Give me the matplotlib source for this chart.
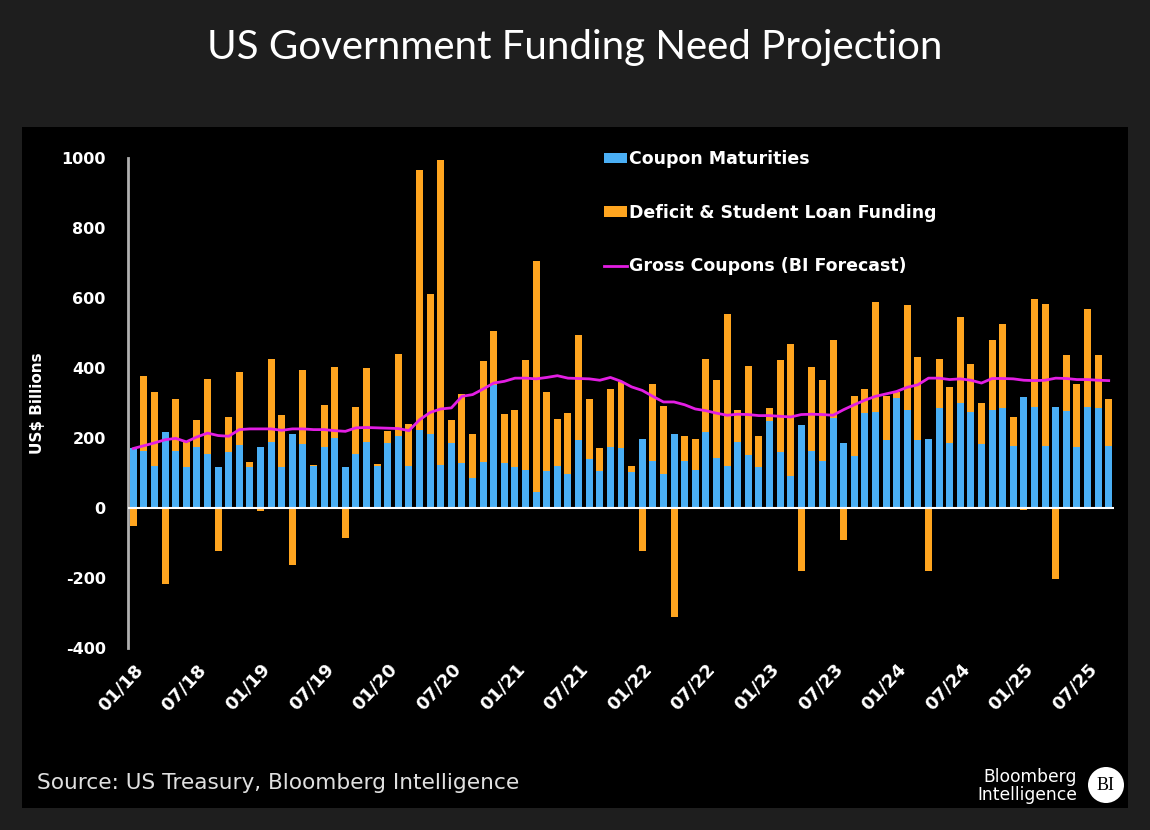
import matplotlib
matplotlib.use("Agg")
import matplotlib.pyplot as plt
import numpy as np
from matplotlib.patches import Rectangle, Ellipse

plt.rcParams["axes.unicode_minus"] = False

# monthly data, 01/18 .. 09/25 (US$ bn)
coupon_maturities = [170, 162, 121, 216, 162, 116, 173, 155, 116, 159, 181, 116, 173, 189, 116,
                     211, 184, 119, 173, 200, 116, 155, 189, 119, 186, 205, 121, 224, 210, 124,
                     186, 129, 86, 131, 352, 129, 116, 108, 45, 105, 121, 98, 193, 140, 105,
                     173, 170, 102, 197, 133, 97, 211, 133, 108, 216, 143, 121, 189, 150, 116,
                     248, 159, 90, 238, 162, 135, 257, 186, 148, 270, 273, 193, 314, 281, 193,
                     197, 286, 186, 300, 273, 183, 281, 285, 178, 316, 289, 178, 289, 278, 173,
                     289, 286, 178]
deficit_funding = [-52, 214, 209, -217, 149, 72, 77, 214, -122, 100, 208, 14, -10, 238, 150,
                   -162, 211, 5, 122, 203, -86, 133, 210, 8, 33, 236, 120, 743, 400, 869,
                   64, 198, 125, 289, 155, 140, 165, 316, 662, 225, 133, 172, 302, 171, 65,
                   167, 189, 19, -122, 221, 195, -312, 72, 89, 211, 224, 433, 92, 255, 89,
                   37, 265, 379, -179, 241, 232, 224, -90, 171, 70, 315, 128, 17, 300, 237,
                   -179, 141, 160, 246, 138, 117, 200, 242, 81, -5, 309, 405, -202, 160, 181,
                   280, 152, 133]
gross_coupons = [170, 178, 186, 195, 199, 189, 203, 214, 207, 205, 224, 226, 226, 226, 222,
                 226, 226, 224, 224, 221, 219, 229, 230, 229, 228, 227, 221, 252, 273, 283,
                 286, 319, 324, 340, 357, 362, 371, 371, 369, 373, 378, 371, 370, 369, 365,
                 373, 362, 346, 336, 319, 303, 303, 295, 283, 278, 271, 265, 268, 267, 264,
                 264, 262, 260, 267, 268, 267, 265, 281, 295, 308, 319, 326, 333, 345, 352,
                 371, 371, 367, 369, 365, 357, 370, 370, 369, 365, 364, 365, 371, 370, 367,
                 367, 365, 364]
tick_labels = ["01/18", "07/18", "01/19", "07/19", "01/20", "07/20", "01/21", "07/21",
               "01/22", "07/22", "01/23", "07/23", "01/24", "07/24", "01/25", "07/25"]

BLUE = "#4aaff5"
ORANGE = "#ffa51f"
MAGENTA = "#e31ee3"

blue = np.array(coupon_maturities)
orange = np.array(deficit_funding)
x = np.arange(len(blue))
orange_bottom = np.where(orange > 0, blue, 0)

fig = plt.figure(figsize=(11.5, 8.3), dpi=100, facecolor="#1e1e1e")

# black chart panel, behind the axes
fig.patches.append(Rectangle((22 / 1150, 1 - 808 / 830), 1106 / 1150, 681 / 830,
                             transform=fig.transFigure, facecolor="black",
                             edgecolor="none", zorder=-5))

fig.text(0.5, 1 - 48 / 830, "US Government Funding Need Projection", ha="center", va="center",
         color="white", fontsize=29, family=["Lato", "DejaVu Sans"])

ax = fig.add_axes([128 / 1150, 1 - 648 / 830, 986 / 1150, 490 / 830])
ax.set_facecolor("black")

b1 = ax.bar(x, blue, width=0.66, color=BLUE, label="Coupon Maturities", zorder=2)
b2 = ax.bar(x, orange, width=0.66, bottom=orange_bottom, color=ORANGE,
            label="Deficit & Student Loan Funding", zorder=2)
l1, = ax.plot(x, gross_coupons, color=MAGENTA, lw=2, label="Gross Coupons (BI Forecast)",
              zorder=3)
ax.axhline(0, color="white", lw=1.5, zorder=4)

ax.set_xlim(-0.5, len(x) - 0.5)
ax.set_ylim(-400, 1000)
ax.set_yticks(range(-400, 1001, 200))
ax.set_xticks(x[::6])
ax.set_xticklabels(tick_labels, rotation=47, ha="right", rotation_mode="anchor")
ax.tick_params(axis="y", length=0, pad=16, colors="white", labelsize=11.5)
ax.tick_params(axis="x", length=0, pad=9, colors="white", labelsize=13)
for lbl in ax.get_xticklabels() + ax.get_yticklabels():
    lbl.set_fontweight("bold")

for side in ["top", "right", "bottom"]:
    ax.spines[side].set_visible(False)
ax.spines["left"].set_color("#b0b0b0")
ax.spines["left"].set_linewidth(2)

ax.set_ylabel("US$ Billions", color="white", fontsize=11, fontweight="bold")
ax.yaxis.set_label_coords(-0.084, 0.5)

leg = ax.legend(handles=[b1, b2, l1], loc="upper left", bbox_to_anchor=(0.476, 1.030),
                frameon=False, fontsize=12.5, labelspacing=2.05, handlelength=1.3,
                handleheight=0.55, handletextpad=0.1, borderaxespad=0)
for t in leg.get_texts():
    t.set_color("white")
    t.set_fontweight("bold")

fig.text(37 / 1150, 1 - 783 / 830, "Source: US Treasury, Bloomberg Intelligence", ha="left",
         va="center", color="#e0e0e0", fontsize=15.6, family=["DejaVu Sans"])
fig.text(1077 / 1150, 1 - 786 / 830, "Bloomberg\nIntelligence", ha="right", va="center",
         color="white", fontsize=12.3, linespacing=1.0, family=["DejaVu Sans"])
fig.patches.append(Ellipse((1106 / 1150, 1 - 785 / 830), 36 / 1150, 36 / 830,
                           transform=fig.transFigure, facecolor="white", edgecolor="none",
                           zorder=5))
fig.text(1106 / 1150, 1 - 785 / 830, "BI", ha="center", va="center", color="black",
         fontsize=13, family=["Liberation Serif", "DejaVu Serif"], zorder=6)

fig.savefig("out.png", dpi=100, facecolor=fig.get_facecolor())
